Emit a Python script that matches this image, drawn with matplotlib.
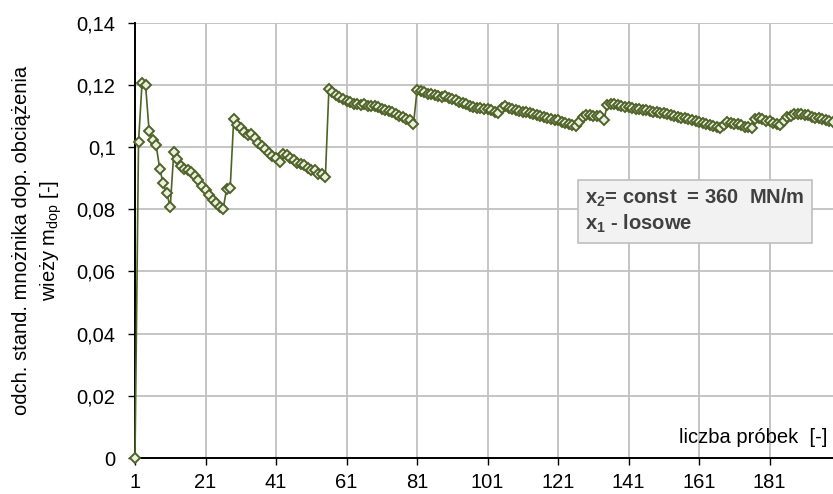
import numpy as np
import matplotlib.pyplot as plt
from matplotlib.ticker import FuncFormatter

plt.rcParams['font.family'] = ['Liberation Sans', 'DejaVu Sans']

# odchylenie standardowe po kolejnych próbkach
sd_values = [
    0.0, 0.1017, 0.1207, 0.1199, 0.1052, 0.1022, 0.1006, 0.0931, 0.0883, 0.0851,
    0.0808, 0.0983, 0.0963, 0.0940, 0.0928, 0.0925, 0.0921, 0.0908, 0.0893, 0.0876,
    0.0862, 0.0847, 0.0831, 0.0819, 0.0808, 0.0801, 0.0866, 0.0868, 0.1089, 0.1071,
    0.1061, 0.1049, 0.1040, 0.1042, 0.1028, 0.1013, 0.1005, 0.0993, 0.0981, 0.0972,
    0.0966, 0.0953, 0.0978, 0.0973, 0.0966, 0.0957, 0.0948, 0.0946, 0.0941, 0.0933,
    0.0926, 0.0925, 0.0915, 0.0912, 0.0903, 0.1186, 0.1178, 0.1168, 0.1160, 0.1153,
    0.1149, 0.1145, 0.1140, 0.1137, 0.1135, 0.1137, 0.1133, 0.1131, 0.1133, 0.1128,
    0.1124, 0.1120, 0.1116, 0.1112, 0.1106, 0.1101, 0.1096, 0.1090, 0.1086, 0.1074,
    0.1182, 0.1180, 0.1176, 0.1172, 0.1170, 0.1166, 0.1163, 0.1160, 0.1164, 0.1158,
    0.1155, 0.1150, 0.1146, 0.1141, 0.1137, 0.1133, 0.1130, 0.1127, 0.1125, 0.1124,
    0.1122, 0.1118, 0.1113, 0.1108, 0.1127, 0.1131, 0.1126, 0.1122, 0.1119, 0.1115,
    0.1112, 0.1114, 0.1109, 0.1106, 0.1103, 0.1100, 0.1097, 0.1093, 0.1090, 0.1088,
    0.1086, 0.1082, 0.1078, 0.1073, 0.1070, 0.1068, 0.1080, 0.1098, 0.1104, 0.1102,
    0.1100, 0.1099, 0.1101, 0.1088, 0.1136, 0.1140, 0.1137, 0.1134, 0.1132, 0.1130,
    0.1128, 0.1127, 0.1124, 0.1122, 0.1120, 0.1118, 0.1117, 0.1114, 0.1112, 0.1110,
    0.1108, 0.1106, 0.1103, 0.1101, 0.1098, 0.1095, 0.1093, 0.1090, 0.1087, 0.1083,
    0.1080, 0.1077, 0.1075, 0.1072, 0.1069, 0.1066, 0.1061, 0.1070, 0.1080, 0.1077,
    0.1073, 0.1075, 0.1070, 0.1066, 0.1064, 0.1060, 0.1091, 0.1094, 0.1089, 0.1085,
    0.1083, 0.1079, 0.1075, 0.1071, 0.1084, 0.1096, 0.1101, 0.1105, 0.1107, 0.1105,
    0.1103, 0.1104, 0.1098, 0.1095, 0.1093, 0.1090, 0.1087, 0.1083, 0.1080,
]
samples = np.arange(1, len(sd_values) + 1)

x_ticks = [1, 21, 41, 61, 81, 101, 121, 141, 161, 181]
y_ticks = [0, 0.02, 0.04, 0.06, 0.08, 0.1, 0.12, 0.14]

fs = 14.5

fig = plt.figure(figsize=(8.33, 4.94), dpi=100)
ax = fig.add_axes([135 / 833, 1 - 458 / 494, 698 / 833, (458 - 22.7) / 494])

ax.plot(samples, sd_values, color='#4f6228', lw=1.2, marker='D', ms=5.5,
        mfc='#ebf1de', mec='#4f6228', mew=1.4, zorder=3, clip_on=False)

ax.set_xlim(1, len(sd_values))
ax.set_ylim(0, 0.14)
ax.set_xticks(x_ticks)
ax.set_yticks(y_ticks)
ax.yaxis.set_major_formatter(FuncFormatter(lambda v, p: f'{v:g}'.replace('.', ',')))

ax.grid(True, color='#c0c0c0', lw=1.3)
ax.set_axisbelow(True)
for s in ['top', 'right']:
    ax.spines[s].set_visible(False)
for s in ['left', 'bottom']:
    ax.spines[s].set_linewidth(1.4)
    ax.spines[s].set_zorder(2.5)
ax.tick_params(axis='both', direction='out', length=5, width=1.0, labelsize=fs,
               colors='black')
ax.tick_params(axis='y', pad=9)
ax.tick_params(axis='x', pad=6)

ax.set_ylabel('odch. stand. mnożnika dop. obciążenia\nwieży m$_{\\mathregular{dop}}$ [-]',
              fontsize=fs, labelpad=9, linespacing=1.45)

ax.text(0.992, 0.046, 'liczba próbek  [-]', transform=ax.transAxes, ha='right',
        va='center', fontsize=fs)

ax.text(0.645, 0.567,
        'x$_{\\mathregular{2}}$= const  = 360  MN/m\nx$_{\\mathregular{1}}$ - losowe',
        transform=ax.transAxes, ha='left', va='center', fontsize=fs,
        fontweight='bold', color='#404040', linespacing=1.2,
        bbox=dict(boxstyle='square,pad=0.38', fc='#f2f2f2', ec='#bfbfbf', lw=1.2),
        zorder=5)

fig.savefig('out.png', dpi=100)
